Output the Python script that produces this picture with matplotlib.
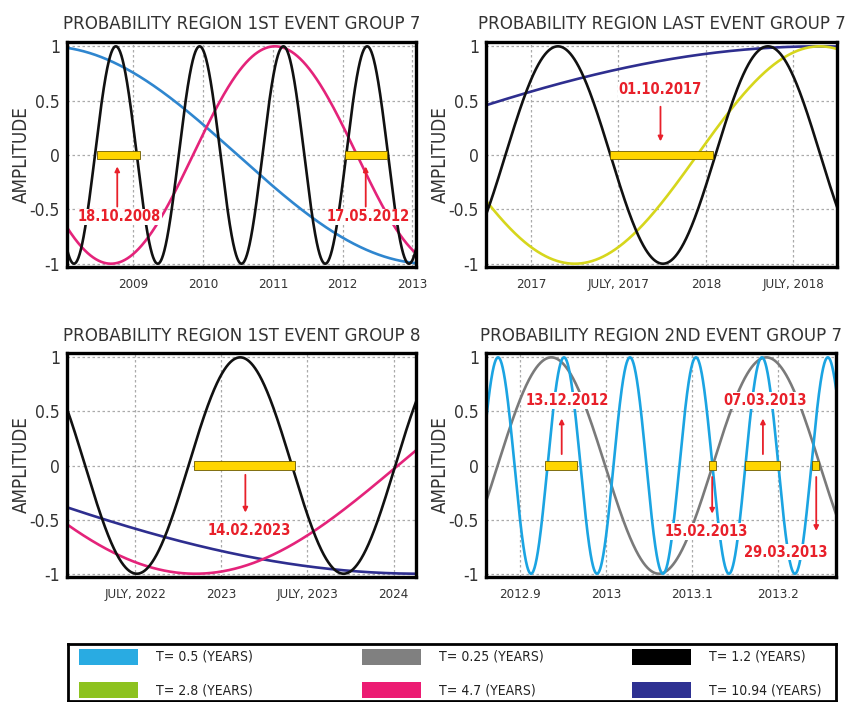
import numpy as np
import matplotlib
matplotlib.use('Agg')
import matplotlib.pyplot as plt
from matplotlib.patches import Rectangle

plt.rcParams['font.family'] = ['DejaVu Sans']
plt.rcParams['font.stretch'] = 'condensed'

# ---- data (decimal years) ----
titles = ['PROBABILITY REGION 1ST EVENT GROUP 7', 'PROBABILITY REGION LAST EVENT GROUP 7',
          'PROBABILITY REGION 1ST EVENT GROUP 8', 'PROBABILITY REGION 2ND EVENT GROUP 7']
xlims = [(2008.05, 2013.05), (2016.743, 2018.749), (2022.105, 2024.13), (2012.860, 2013.267)]
xticks = [[2009, 2010, 2011, 2012, 2013], [2017, 2017.5, 2018, 2018.5],
          [2022.5, 2023, 2023.5, 2024], [2012.9, 2013.0, 2013.1, 2013.2]]
xticklabels = [['2009', '2010', '2011', '2012', '2013'], ['2017', 'JULY, 2017', '2018', 'JULY, 2018'],
               ['JULY, 2022', '2023', 'JULY, 2023', '2024'], ['2012.9', '2013', '2013.1', '2013.2']]

# curves: period (years), time of a maximum, colour
periods = [[10.94, 4.7, 1.2], [10.94, 2.8, 1.2], [10.94, 4.7, 1.2], [0.25, 0.0767]]
peaks = [[2007.76, 2011.03, 2008.75], [2018.65, 2018.65, 2017.154],
         [2018.68, 2025.20, 2023.11], [2012.936, 2012.874]]
colors = [['#2f86cf', '#e4237a', '#111111'], ['#2e2e8f', '#d6d61c', '#111111'],
          ['#2e2e8f', '#e4237a', '#111111'], ['#7a7a7a', '#1ba4e2']]

# yellow probability bars (start, end)
bars = [[(2008.48, 2009.10), (2012.04, 2012.64)], [(2017.45, 2018.04)], [(2022.84, 2023.43)],
        [(2012.929, 2012.966), (2013.119, 2013.127), (2013.161, 2013.202), (2013.239, 2013.247)]]

# arrows: x, y_start, y_end, label, label_x, label_y
arrows = [[(2008.77, -0.5, -0.08, '18.10.2008', 2008.80, -0.57), (2012.33, -0.5, -0.08, '17.05.2012', 2012.36, -0.57)],
          [(2017.74, 0.47, 0.1, '01.10.2017', 2017.74, 0.60)],
          [(2023.14, -0.06, -0.46, '14.02.2023', 2023.16, -0.60)],
          [(2012.948, 0.08, 0.46, '13.12.2012', 2012.955, 0.60), (2013.123, -0.08, -0.47, '15.02.2013', 2013.116, -0.61),
           (2013.182, 0.08, 0.46, '07.03.2013', 2013.184, 0.60), (2013.244, -0.08, -0.63, '29.03.2013', 2013.208, -0.80)]]

legend_labels = ['T= 0.5 (YEARS)', 'T= 0.25 (YEARS)', 'T= 1.2 (YEARS)',
                 'T= 2.8 (YEARS)', 'T= 4.7 (YEARS)', 'T= 10.94 (YEARS)']
legend_colors = ['#29abe2', '#808080', '#000000', '#8dc21f', '#ec1c73', '#2e3192']

fig = plt.figure(figsize=(8.46, 7.02), dpi=100)
positions = [[0.0792, 0.6197, 0.4125, 0.3205], [0.5745, 0.6197, 0.4149, 0.3205],
             [0.0792, 0.1781, 0.4125, 0.3190], [0.5745, 0.1781, 0.4137, 0.3190]]

red = '#e8202a'
for i in range(4):
    ax = fig.add_axes(positions[i])
    t = np.linspace(xlims[i][0], xlims[i][1], 1500)
    for T, p, c in zip(periods[i], peaks[i], colors[i]):
        ax.plot(t, np.cos(2 * np.pi * (t - p) / T), color=c, lw=1.9, zorder=3)
    for x0, x1 in bars[i]:
        ax.bar((x0 + x1) / 2, 0.08, width=x1 - x0, bottom=-0.04, color='#ffd500',
               edgecolor='#6b5a00', linewidth=0.6, zorder=4)
    for x, y0, y1, lab, lx, ly in arrows[i]:
        ax.annotate('', xy=(x, y1), xytext=(x, y0),
                    arrowprops=dict(arrowstyle='-|>', color=red, lw=1.3, mutation_scale=7), zorder=5)
        ax.text(lx, ly, lab, color=red, fontsize=10.5, fontweight='bold', ha='center', va='center', zorder=6,
                bbox=dict(facecolor='white', edgecolor='none', pad=0.5))
    ax.set_xlim(xlims[i])
    ax.set_ylim(-1.03, 1.04)
    ax.set_xticks(xticks[i])
    ax.set_xticklabels(xticklabels[i], fontsize=9.5, color='#333333')
    ax.set_yticks([-1, -0.5, 0, 0.5, 1])
    ax.set_yticklabels(['-1', '-0.5', '0', '0.5', '1'], fontsize=12.5, color='#333333')
    ax.tick_params(length=0, pad=5)
    ax.tick_params(axis='x', pad=8)
    ax.grid(True, color='#aaaaaa', linestyle=(0, (2, 2)), linewidth=0.9, zorder=0)
    for s in ax.spines.values():
        s.set_linewidth(2.4)
        s.set_zorder(7)
    ax.set_ylabel('AMPLITUDE', fontsize=13.5, color='#333333', labelpad=-1)
    ax.set_title(titles[i], fontsize=13.3, color='#333333', pad=9)

# legend box drawn by hand (3 columns x 2 rows)
lax = fig.add_axes([68 / 846, 0.002, (836 - 68) / 846, (700 - 643) / 702])
lax.set_xlim(0, 1)
lax.set_ylim(0, 1)
lax.set_xticks([])
lax.set_yticks([])
for s in lax.spines.values():
    s.set_linewidth(2)
col_x = [0.014, 0.383, 0.734]
row_y = [0.63, 0.05]
for k, (lab, c) in enumerate(zip(legend_labels, legend_colors)):
    r, cc = divmod(k, 3)
    lax.add_patch(Rectangle((col_x[cc], row_y[r]), 0.077, 0.27, facecolor=c, edgecolor='none'))
    lax.text(col_x[cc] + 0.1, row_y[r] + 0.135, lab, fontsize=10, color='#222222', va='center', ha='left')

fig.savefig('out.png', dpi=100)
